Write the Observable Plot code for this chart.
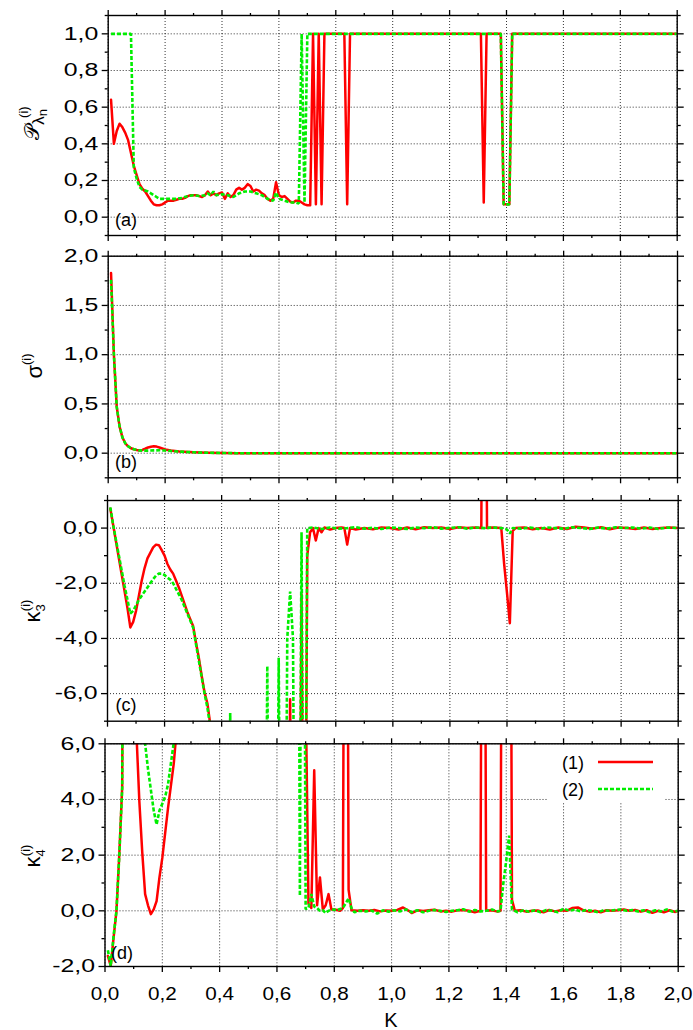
<!DOCTYPE html>
<html><head><meta charset="utf-8">
<script src="https://cdn.jsdelivr.net/npm/d3@7"></script>
<script src="https://cdn.jsdelivr.net/npm/@observablehq/plot@0.6"></script>
<style>
body{margin:0;background:#fff;}
#chart{position:relative;width:693px;height:1030px;overflow:hidden;background:#fff;}
#chart svg{position:absolute;left:0;}
</style></head><body><div id="chart"></div>
<script>
// ---------- tick values ----------
const xMajor = [0,0.2,0.4,0.6,0.8,1.0,1.2,1.4,1.6,1.8,2.0];
const xMinor = [0.1,0.3,0.5,0.7,0.9,1.1,1.3,1.5,1.7,1.9];
const aMajor = [0,0.2,0.4,0.6,0.8,1.0], aMinor = [-0.1,0.1,0.3,0.5,0.7,0.9,1.1];
const bMajor = [0,0.5,1.0,1.5,2.0], bMinor = [-0.25,0.25,0.75,1.25,1.75];
const cMajor = [-6,-4,-2,0], cMinor = [-7,-5,-3,-1,1];
const dMajor = [-2,0,2,4,6], dMinor = [-1,1,3,5];
const seriesNames = ["(1)", "(2)"];

// ---------- panel (a): P_lambda_n ----------
const aRed = [[0.01,0.64],[0.02,0.40],[0.03,0.47],[0.04,0.51],[0.05,0.49],[0.06,0.46],[0.07,0.42],[0.08,0.35],[0.09,0.28],[0.10,0.23],[0.11,0.18],[0.12,0.155],[0.13,0.14],[0.14,0.115],[0.15,0.09],[0.16,0.07],[0.17,0.065],[0.18,0.065],[0.19,0.07],[0.20,0.08],[0.21,0.09],[0.22,0.09],[0.23,0.09],[0.24,0.095],[0.25,0.10],[0.26,0.10],[0.27,0.105],[0.28,0.115],[0.29,0.12],[0.30,0.12],[0.31,0.12],[0.32,0.115],[0.33,0.11],[0.34,0.12],[0.35,0.14],[0.36,0.12],[0.37,0.13],[0.38,0.12],[0.39,0.13],[0.40,0.135],[0.41,0.10],[0.42,0.13],[0.43,0.11],[0.44,0.12],[0.45,0.15],[0.46,0.16],[0.47,0.15],[0.48,0.16],[0.49,0.18],[0.50,0.17],[0.51,0.14],[0.52,0.15],[0.53,0.145],[0.54,0.13],[0.55,0.12],[0.56,0.10],[0.57,0.09],[0.58,0.10],[0.59,0.19],[0.60,0.12],[0.61,0.11],[0.62,0.115],[0.63,0.10],[0.64,0.085],[0.65,0.08],[0.66,0.09],[0.67,0.09],[0.68,0.08],[0.69,0.07],[0.70,0.065],[0.71,0.065],[0.72,1.0],[0.73,0.07],[0.74,1.0],[0.75,0.07],[0.76,1.0],[0.83,1.0],[0.84,0.07],[0.85,1.0],[1.31,1.0],[1.32,0.08],[1.33,1.0],[1.38,1.0],[1.39,0.07],[1.40,0.07],[1.41,0.07],[1.42,1.0],[2.0,1.0]];
const aGreen = [[0.01,1.0],[0.08,1.0],[0.09,0.27],[0.10,0.21],[0.11,0.165],[0.12,0.15],[0.13,0.145],[0.14,0.14],[0.15,0.13],[0.16,0.12],[0.17,0.11],[0.18,0.10],[0.20,0.10],[0.22,0.10],[0.24,0.10],[0.26,0.105],[0.28,0.115],[0.30,0.12],[0.32,0.115],[0.34,0.12],[0.35,0.13],[0.36,0.12],[0.37,0.14],[0.38,0.12],[0.40,0.125],[0.42,0.12],[0.44,0.11],[0.46,0.13],[0.48,0.14],[0.50,0.14],[0.52,0.13],[0.54,0.12],[0.56,0.10],[0.58,0.09],[0.59,0.135],[0.60,0.10],[0.62,0.09],[0.64,0.08],[0.66,0.08],[0.67,0.075],[0.68,1.0],[0.69,0.08],[0.70,1.0],[1.38,1.0],[1.39,0.07],[1.40,0.07],[1.41,0.07],[1.42,1.0],[2.0,1.0]];

// ---------- panel (b): sigma ----------
const bRed = [[0.01,1.83],[0.02,1.0],[0.03,0.47],[0.04,0.27],[0.05,0.16],[0.06,0.10],[0.07,0.07],[0.08,0.05],[0.09,0.04],[0.10,0.033],[0.11,0.028],[0.12,0.033],[0.13,0.045],[0.14,0.058],[0.15,0.066],[0.16,0.07],[0.17,0.067],[0.18,0.058],[0.19,0.048],[0.20,0.038],[0.22,0.027],[0.25,0.018],[0.30,0.01],[0.35,0.005],[0.40,0.002],[0.45,0.0],[2.0,0.0]];
const bGreen = [[0.01,1.76],[0.02,1.0],[0.03,0.47],[0.04,0.27],[0.05,0.16],[0.06,0.10],[0.07,0.07],[0.08,0.05],[0.09,0.04],[0.10,0.033],[0.11,0.028],[0.12,0.026],[0.14,0.026],[0.16,0.028],[0.18,0.03],[0.20,0.027],[0.22,0.022],[0.25,0.016],[0.30,0.009],[0.35,0.004],[0.40,0.002],[0.45,0.0],[2.0,0.0]];

// ---------- panel (c): kappa_3 ----------
const cRed = [[0.01,0.7],[0.02,0.1],[0.03,-0.5],[0.04,-1.1],[0.05,-1.7],[0.06,-2.3],[0.07,-2.9],[0.08,-3.6],[0.09,-3.4],[0.10,-3.0],[0.11,-2.45],[0.12,-1.9],[0.13,-1.45],[0.14,-1.1],[0.15,-0.9],[0.16,-0.7],[0.17,-0.6],[0.18,-0.62],[0.19,-0.8],[0.20,-1.0],[0.21,-1.3],[0.22,-1.5],[0.23,-1.65],[0.24,-1.9],[0.25,-2.15],[0.26,-2.45],[0.27,-2.75],[0.28,-3.05],[0.29,-3.3],[0.30,-3.55],[0.31,-4.15],[0.32,-4.7],[0.33,-5.35],[0.34,-5.95],[0.35,-6.35],[0.36,-7.1],[0.37,-20],[0.63,-20],[0.64,-6.2],[0.65,-20],[0.67,-20],[0.68,-2.4],[0.69,-20],[0.70,-1.0],[0.71,-0.15],[0.72,0.0],[0.73,-0.45],[0.74,0.0],[0.75,-0.15],[0.76,0.02],[0.78,-0.05],[0.80,0.0],[0.82,0.02],[0.83,0.0],[0.84,-0.6],[0.85,0.0],[0.87,-0.05],[0.90,0.0],[0.93,-0.04],[0.96,0.02],[0.99,0.0],[1.02,-0.05],[1.05,0.02],[1.08,-0.04],[1.11,0.03],[1.14,0.0],[1.17,0.02],[1.20,-0.03],[1.23,0.03],[1.26,0.0],[1.29,0.02],[1.31,0.0],[1.32,20],[1.33,0.0],[1.35,0.02],[1.38,0.0],[1.39,-1.3],[1.40,-2.35],[1.41,-3.45],[1.42,-0.1],[1.43,0.0],[1.46,0.02],[1.49,-0.04],[1.52,0.0],[1.55,-0.05],[1.58,0.02],[1.61,-0.03],[1.64,0.05],[1.67,0.02],[1.70,-0.02],[1.73,0.03],[1.76,-0.04],[1.79,0.02],[1.82,0.0],[1.85,-0.03],[1.88,0.02],[1.91,-0.03],[1.94,0.0],[1.97,0.02],[2.0,0.0]];
const cGreen = [[0.01,0.75],[0.02,0.1],[0.03,-0.45],[0.04,-1.0],[0.05,-1.55],[0.06,-2.1],[0.07,-2.6],[0.08,-3.1],[0.09,-3.0],[0.10,-2.8],[0.11,-2.6],[0.12,-2.45],[0.13,-2.3],[0.14,-2.15],[0.15,-2.0],[0.16,-1.85],[0.17,-1.72],[0.18,-1.65],[0.19,-1.65],[0.20,-1.7],[0.21,-1.8],[0.22,-1.87],[0.23,-2.0],[0.24,-2.2],[0.25,-2.4],[0.26,-2.6],[0.27,-2.85],[0.28,-3.1],[0.29,-3.35],[0.30,-3.6],[0.31,-4.2],[0.32,-4.8],[0.33,-5.4],[0.34,-6.0],[0.35,-6.5],[0.36,-7.2],[0.37,-20],[0.42,-20],[0.43,-6.7],[0.44,-20],[0.55,-20],[0.56,-5.0],[0.57,-20],[0.59,-20],[0.60,-4.7],[0.61,-20],[0.62,-20],[0.63,-4.0],[0.64,-2.3],[0.65,-4.0],[0.66,-20],[0.67,-20],[0.68,-0.15],[0.69,-20],[0.70,0.0],[0.72,0.02],[0.75,-0.03],[0.78,0.02],[0.81,-0.02],[0.84,0.0],[0.87,0.03],[0.90,-0.02],[0.93,0.01],[0.96,-0.03],[0.99,0.02],[1.02,0.0],[1.05,-0.03],[1.08,0.02],[1.11,0.0],[1.14,0.03],[1.17,-0.02],[1.20,0.01],[1.23,0.03],[1.26,-0.02],[1.29,0.02],[1.32,0.0],[1.35,0.02],[1.38,0.0],[1.40,-0.05],[1.41,-0.2],[1.42,0.0],[1.45,-0.02],[1.48,0.02],[1.51,-0.03],[1.54,0.02],[1.57,0.0],[1.60,-0.02],[1.63,0.03],[1.66,0.0],[1.69,-0.03],[1.72,0.02],[1.75,-0.02],[1.78,0.03],[1.81,0.0],[1.84,0.02],[1.87,-0.02],[1.90,0.02],[1.93,-0.03],[1.96,0.02],[2.0,0.0]];

// ---------- panel (d): kappa_4 ----------
const dRed = [[0.01,-1.62],[0.02,-1.98],[0.03,-0.96],[0.04,0.0],[0.05,2.05],[0.06,4.45],[0.07,30],[0.10,30],[0.11,6.3],[0.12,3.9],[0.13,2.1],[0.14,0.6],[0.15,0.2],[0.16,-0.12],[0.17,0.05],[0.18,0.35],[0.19,1.2],[0.20,1.9],[0.21,2.8],[0.22,3.7],[0.23,4.5],[0.24,5.3],[0.25,6.5],[0.26,30],[0.69,30],[0.70,8],[0.71,0.25],[0.72,0.1],[0.73,5.05],[0.74,0.2],[0.75,1.2],[0.76,0.05],[0.77,0.2],[0.78,0.6],[0.79,0.05],[0.80,0.05],[0.81,0.03],[0.82,0.0],[0.83,0.1],[0.84,30],[0.85,0.75],[0.86,0.02],[0.88,0.0],[0.90,0.02],[0.92,0.0],[0.94,0.03],[0.96,-0.02],[0.98,0.01],[1.00,0.0],[1.02,0.03],[1.04,0.12],[1.06,0.0],[1.07,-0.08],[1.09,0.02],[1.11,-0.01],[1.13,0.02],[1.15,0.04],[1.17,-0.02],[1.19,0.0],[1.21,-0.03],[1.23,0.02],[1.25,0.03],[1.27,0.0],[1.29,-0.05],[1.31,0.0],[1.32,30],[1.33,0.0],[1.35,0.02],[1.37,-0.03],[1.38,0.0],[1.39,30],[1.41,30],[1.42,0.4],[1.43,0.0],[1.45,0.02],[1.47,-0.03],[1.49,0.0],[1.51,0.01],[1.53,-0.05],[1.55,0.03],[1.57,-0.02],[1.59,0.02],[1.61,0.0],[1.63,0.1],[1.65,0.12],[1.67,0.02],[1.69,-0.03],[1.71,0.0],[1.73,-0.05],[1.75,0.02],[1.77,0.0],[1.79,0.02],[1.81,0.05],[1.83,0.0],[1.85,0.03],[1.87,-0.03],[1.89,0.02],[1.91,-0.07],[1.93,0.0],[1.95,-0.05],[1.97,0.02],[1.99,-0.04],[2.0,0.0]];
const dGreen = [[0.01,-1.42],[0.02,-1.98],[0.03,-0.9],[0.04,0.0],[0.05,2.0],[0.06,4.4],[0.07,30],[0.13,30],[0.14,6.0],[0.15,5.1],[0.16,4.35],[0.17,3.6],[0.18,3.1],[0.19,3.6],[0.20,3.85],[0.21,4.1],[0.22,4.55],[0.23,5.3],[0.24,6.05],[0.25,30],[0.67,30],[0.68,0.54],[0.69,30],[0.70,0.06],[0.71,0.1],[0.72,0.6],[0.73,0.15],[0.74,0.1],[0.75,0.0],[0.76,0.02],[0.77,-0.08],[0.78,0.0],[0.79,0.05],[0.81,0.03],[0.83,0.1],[0.85,0.45],[0.86,0.1],[0.87,-0.05],[0.89,0.0],[0.91,-0.02],[0.93,0.01],[0.95,-0.1],[0.97,0.02],[0.99,-0.03],[1.01,0.02],[1.03,-0.02],[1.05,0.05],[1.07,-0.05],[1.09,0.02],[1.11,-0.05],[1.13,0.0],[1.15,0.03],[1.17,0.0],[1.19,-0.04],[1.21,0.0],[1.23,0.02],[1.25,0.06],[1.27,-0.03],[1.29,0.03],[1.31,-0.02],[1.33,0.0],[1.35,0.05],[1.37,-0.02],[1.38,0.0],[1.39,1.0],[1.40,1.8],[1.41,2.7],[1.42,0.05],[1.44,-0.05],[1.46,0.02],[1.48,-0.03],[1.50,0.02],[1.52,-0.05],[1.54,0.03],[1.56,0.0],[1.58,-0.05],[1.60,0.08],[1.62,0.0],[1.64,0.05],[1.66,-0.02],[1.68,0.03],[1.70,0.0],[1.72,-0.05],[1.74,0.02],[1.76,0.0],[1.78,0.03],[1.80,0.05],[1.82,0.0],[1.84,0.03],[1.86,-0.02],[1.88,0.02],[1.90,-0.05],[1.92,0.02],[1.94,-0.02],[1.96,0.05],[1.98,-0.03],[2.0,0.0]];

// ---------- drawing ----------
const RED = "#ff0000", GREEN = "#00ee00";
const FONT = "Liberation Sans, Arial, sans-serif";
const fmt = d => d.toFixed(1).replace(".", ",");
const blank = () => "";
const toObj = a => a.map(([k, v]) => ({k, v}));
const chart = document.getElementById("chart");

function stretch(svg, sel, s) {
  d3.select(svg).selectAll(sel).each(function() {
    const t = this.getAttribute("transform");
    if (t) this.setAttribute("transform", t + ` scale(${s},1)`);
    else {
      const x = +this.getAttribute("x") || 0, y = +this.getAttribute("y") || 0;
      this.removeAttribute("x"); this.removeAttribute("y");
      this.setAttribute("transform", `translate(${x},${y}) scale(${s},1)`);
    }
  });
}

function panel(cfg) {
  const {top, height, mt, mb, ml, mr, yDomain, yMajor, yMinor, red, green, xLabels} = cfg;
  const grid = {stroke: "#000", strokeOpacity: 0.8, strokeWidth: 1, strokeDasharray: "1,2"};
  const tk = {strokeWidth: 1.3, label: null};
  const svg = Plot.plot({
    width: 693, height, marginTop: mt, marginBottom: mb, marginLeft: ml, marginRight: mr,
    style: {background: "transparent", fontFamily: FONT, fontSize: "18px", color: "#000", overflow: "visible"},
    x: {domain: [0, 2]},
    y: {domain: yDomain},
    marks: [
      Plot.gridX(xMajor, grid),
      Plot.gridY(yMajor, grid),
      Plot.line(toObj(red), {x: "k", y: "v", stroke: RED, strokeWidth: 2.5, clip: true}),
      Plot.line(toObj(green), {x: "k", y: "v", stroke: GREEN, strokeWidth: 2.6, strokeDasharray: "4,2", strokeLinecap: "butt", strokeLinejoin: "miter", clip: true}),
      Plot.frame({stroke: "#000", strokeWidth: 1.4}),
      Plot.axisX(xMajor, {...tk, anchor: "bottom", tickSize: 6, tickPadding: 15, tickFormat: xLabels ? fmt : blank}),
      Plot.axisX(xMinor, {...tk, anchor: "bottom", tickSize: 3, tickFormat: blank}),
      Plot.axisX(xMajor, {...tk, anchor: "top", tickSize: 6, tickFormat: blank}),
      Plot.axisX(xMinor, {...tk, anchor: "top", tickSize: 3, tickFormat: blank}),
      Plot.axisY(yMajor, {...tk, anchor: "left", tickSize: 6, tickPadding: 4, tickFormat: fmt}),
      Plot.axisY(yMinor, {...tk, anchor: "left", tickSize: 3, tickFormat: blank}),
      Plot.axisY(yMajor, {...tk, anchor: "right", tickSize: 6, tickFormat: blank}),
      Plot.axisY(yMinor, {...tk, anchor: "right", tickSize: 3, tickFormat: blank})
    ]
  });
  svg.style.top = top + "px";
  chart.appendChild(svg);
  // the second line group is the dashed series (2): keep square dashes
  const lines = d3.select(svg).selectAll('g[aria-label="line"]').nodes();
  if (lines[1]) d3.select(lines[1]).selectAll("path").attr("stroke-dasharray", "4,2").attr("stroke-linecap", "butt").attr("stroke-linejoin", "miter");
  stretch(svg, 'g[aria-label="y-axis tick label"] text', 1.38);
  stretch(svg, 'g[aria-label="x-axis tick label"] text', 1.15);
  return d3.select(svg);
}

function yLabel(s, x, y, parts) {
  const t = s.append("text").attr("transform", `translate(${x},${y}) rotate(-90)`)
    .attr("text-anchor", "middle").attr("font-family", FONT).attr("fill", "#000");
  parts.forEach(p => {
    const ts = t.append("tspan").text(p.t).attr("font-size", p.fs);
    if (p.dx) ts.attr("dx", p.dx);
    if (p.dy) ts.attr("dy", p.dy);
    if (p.ff) ts.attr("font-family", p.ff);
  });
}
function tag(s, x, y, txt) {
  s.append("text").attr("x", x).attr("y", y).attr("font-family", FONT).attr("font-size", 18).attr("fill", "#000").text(txt);
}

// (a)
const sa = panel({top: 0, height: 250, mt: 15, mb: 15, ml: 107.7, mr: 16.3, yDomain: [-0.1, 1.1], yMajor: aMajor, yMinor: aMinor, red: aRed, green: aGreen, xLabels: false});
yLabel(sa, 39, 123, [{t: "\u{1D4AB}", fs: 21, ff: "DejaVu Sans, Noto Sans, serif"}, {t: "λ", fs: 17, dy: 5}, {t: "n", fs: 13, dy: 3}, {t: "(i)", fs: 13, dx: -9, dy: -19}]);
tag(sa, 126, 226, "(a)");

// (b)
const sb = panel({top: 240, height: 252, mt: 15.7, mb: 14.7, ml: 107.7, mr: 16, yDomain: [-0.25, 2.0], yMajor: bMajor, yMinor: bMinor, red: bRed, green: bGreen, xLabels: false});
yLabel(sb, 42, 126, [{t: "σ", fs: 22}, {t: "(i)", fs: 13, dy: -11}]);
tag(sb, 126, 228, "(b)");

// (c)
const sc = panel({top: 485, height: 250, mt: 15, mb: 14.3, ml: 107, mr: 15.3, yDomain: [-7, 1], yMajor: cMajor, yMinor: cMinor, red: cRed, green: cGreen, xLabels: false});
yLabel(sc, 40, 126, [{t: "κ", fs: 22}, {t: "3", fs: 13, dy: 5}, {t: "(i)", fs: 13, dx: -7, dy: -15}]);
tag(sc, 126, 226, "(c)");

// (d)
const sd = panel({top: 728, height: 302, mt: 15.3, mb: 64, ml: 104.5, mr: 15.3, yDomain: [-2, 6], yMajor: dMajor, yMinor: dMinor, red: dRed, green: dGreen, xLabels: true});
yLabel(sd, 40, 128, [{t: "κ", fs: 22}, {t: "4", fs: 13, dy: 5}, {t: "(i)", fs: 13, dx: -7, dy: -15}]);
tag(sd, 122, 231, "(d)");
sd.append("text").attr("x", 391).attr("y", 299).attr("text-anchor", "middle").attr("font-family", FONT).attr("font-size", 20).attr("fill", "#000").text("K");

// legend (inside panel d)
const lg = sd.append("g");
lg.append("rect").attr("x", 548).attr("y", 17).attr("width", 117).attr("height", 58).attr("fill", "#fff");
const legendItems = [{name: seriesNames[0], color: RED, dash: null, y: 34}, {name: seriesNames[1], color: GREEN, dash: "4,2", y: 61}];
legendItems.forEach(it => {
  lg.append("text").attr("x", 584).attr("y", it.y + 7).attr("text-anchor", "end").attr("font-family", FONT).attr("font-size", 18).attr("fill", "#000").text(it.name);
  const l = lg.append("line").attr("x1", 598).attr("x2", 653).attr("y1", it.y).attr("y2", it.y).attr("stroke", it.color).attr("stroke-width", 2.6);
  if (it.dash) l.attr("stroke-dasharray", it.dash);
});
</script></body></html>
